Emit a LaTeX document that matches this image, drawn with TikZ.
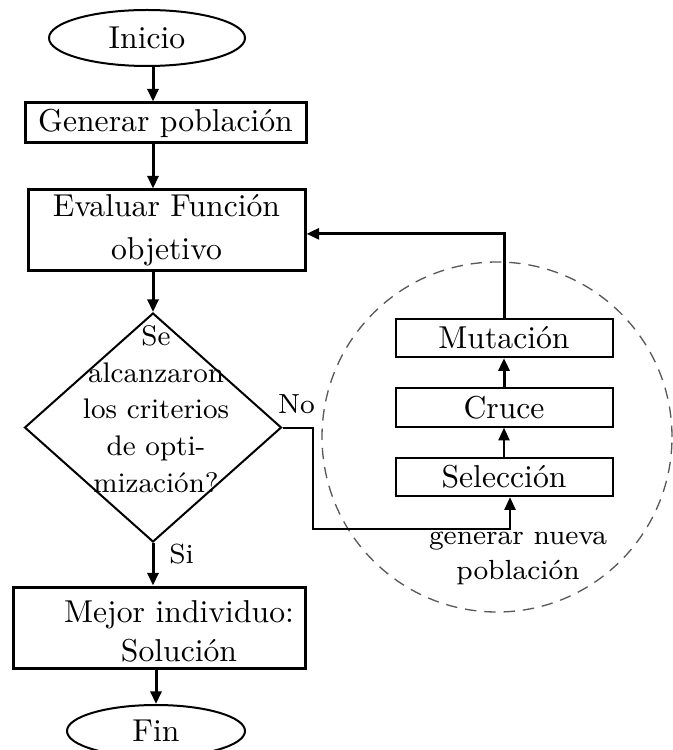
\documentclass[tikz,border=0pt]{standalone}
\usepackage{fontspec}
\usetikzlibrary{shapes.geometric,arrows.meta}
\begin{document}
\begin{tikzpicture}[x=0.3pt,y=-0.3pt,
  bigbox/.style={draw,line width=0.9pt,inner sep=0pt,align=center,font=\fontsize{9.5}{12.9}\selectfont},
  smallbox/.style={draw,line width=0.6pt,inner sep=0pt,minimum width=65.1pt,minimum height=11.5pt,font=\fontsize{9.5}{11}\selectfont},
  term/.style={draw,ellipse,line width=0.6pt,inner sep=0pt,font=\fontsize{9.5}{11}\selectfont},
  txt/.style={inner sep=0pt,align=center},
  lbl/.style={inner sep=0pt,align=center,font=\fontsize{8.3}{10.5}\selectfont},
  flow/.style={-{Triangle[length=3.8pt,width=3.3pt]},line width=0.9pt},
  thinflow/.style={-{Triangle[length=3.8pt,width=3.3pt]},line width=0.6pt}]
\useasboundingbox (0,0) rectangle (672,750);

% dashed circle
\node[circle,draw=black!65,dashed,dash pattern=on 3.4pt off 2.4pt,line width=0.4pt,minimum size=105pt,inner sep=0pt] (gacirc) at (497,437) {};

% main flow
\node[term,minimum width=58.8pt,minimum height=16.8pt] (inicio) at (147,38) {Inicio};
\node[bigbox,minimum width=84.3pt,minimum height=12pt] (gen) at (165.5,123) {Generar población};
\node[bigbox,minimum width=83.1pt,minimum height=24.3pt] (eval) at (166.5,230.5) {Evaluar Función\\objetivo};
\node[diamond,draw,line width=0.6pt,inner sep=0pt,minimum width=77.1pt,minimum height=68.7pt] (dec) at (153,427.5) {};
\node[txt,font=\fontsize{8.5}{11}\selectfont] (dectext) at (156,409) {Se\\alcanzaron\\los criterios\\de opti-\\mización?};
\node[bigbox,minimum width=87.6pt,minimum height=24.3pt] (mejor) at (159,627.5) {};
\node[txt,font=\fontsize{9.5}{11.7}\selectfont] (mejortext) at (179,631.5) {Mejor individuo:\\Solución};
\node[term,minimum width=53.4pt,minimum height=15.6pt] (fin) at (156,731) {Fin};

% right boxes
\node[smallbox] (mut) at (504,338) {Mutación};
\node[smallbox] (cru) at (504,407.5) {Cruce};
\node[smallbox] (sel) at (504,477) {Selección};
\node[lbl] (gen2) at (518,558.6) {generar nueva\\población};

% labels
\node[lbl] (no) at (296.5,404.5) {No};
\node[lbl] (si) at (181.5,554) {Si};

% connectors
\draw[flow] (inicio.south -| dec.north) -- (gen.north -| dec.north);
\draw[flow] (gen.south -| dec.north) -- (eval.north -| dec.north);
\draw[flow] (eval.south -| dec.north) -- (dec.north);
\draw[flow] (dec.south) -- (mejor.north -| dec.south);
\draw[flow] (mejor.south -| fin.north) -- (fin.north);

\draw[thinflow] (sel.north) -- (cru.south);
\draw[flow] (cru.north) -- (mut.south);
\draw[flow] (mut.north) |- ([yshift=-1pt]eval.east);

\coordinate (nobend) at (313,529);
\draw[thinflow] (dec.east) -| (nobend) -| ([xshift=1.8pt]sel.south);
\end{tikzpicture}
\end{document}
